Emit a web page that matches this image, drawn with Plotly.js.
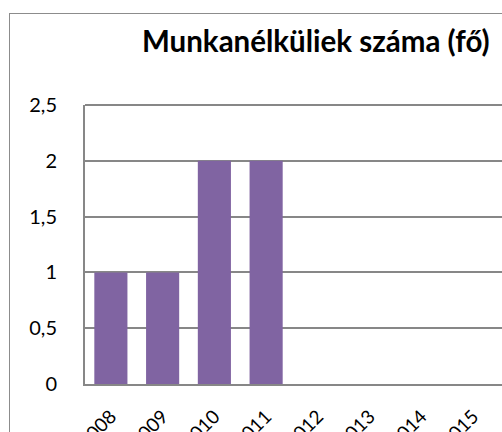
<!DOCTYPE html>
<html>
<head>
<meta charset="utf-8">
<script src="https://cdn.plot.ly/plotly-3.0.1.min.js"></script>
<style>
html,body{margin:0;padding:0;overflow:hidden;background:#fff;}
#wrap{position:relative;width:502px;height:432px;overflow:hidden;}
#frame{position:absolute;left:9px;top:13px;width:700px;height:700px;border:1.5px solid #8c8c8c;box-sizing:border-box;pointer-events:none;}
#chart{position:absolute;left:0;top:0;}
</style>
</head>
<body>
<div id="wrap">
<div id="chart" style="width:502px;height:432px;"></div>
<div id="frame"></div>
</div>
<script>
const years = ['2008','2009','2010','2011','2012','2013','2014','2015'];
const unemployed = [1, 1, 2, 2, null, null, null, null];
const yTicks = [0, 0.5, 1, 1.5, 2, 2.5];
const chartTitle = 'Munkanélküliek száma (fő)';

const fontFam = 'Lato, "Open Sans", sans-serif';
const L = 85, R = 0, T = 105, B = 48, W = 502, H = 432;
const pw = W - L - R, ph = H - T - B;
const catW = 51.75;

const data = [{
  type: 'bar',
  x: years,
  y: unemployed,
  marker: {color: '#8064A2'},
  width: 0.64,
  hoverinfo: 'skip'
}];

const layout = {
  width: W, height: H,
  margin: {l: L, r: R, t: T, b: B, pad: 0},
  paper_bgcolor: 'rgba(0,0,0,0)',
  plot_bgcolor: 'rgba(0,0,0,0)',
  separators: ',.',
  showlegend: false,
  font: {family: fontFam, size: 18, color: '#000'},
  xaxis: {
    type: 'category',
    range: [-0.5, -0.5 + pw / catW],
    tickangle: -45,
    showgrid: false,
    showline: true, linecolor: '#878787', linewidth: 2,
    ticks: '',
    ticklabelstandoff: 12,
    tickfont: {family: fontFam, size: 19, color: '#000'},
    fixedrange: true
  },
  yaxis: {
    range: [0, 2.5],
    tickvals: yTicks,
    showgrid: true, gridcolor: '#878787', gridwidth: 2,
    showline: true, linecolor: '#878787', linewidth: 2,
    zeroline: false,
    ticks: '',
    ticklabelstandoff: 22,
    tickfont: {family: fontFam, size: 20, color: '#000'},
    fixedrange: true
  },
  shapes: [{
    type: 'line', xref: 'paper', yref: 'paper',
    x0: 0, x1: 1, y0: 1, y1: 1,
    line: {color: '#878787', width: 2}
  }],
  annotations: [{
    text: '<b>' + chartTitle + '</b>',
    xref: 'paper', yref: 'paper',
    x: (316 - L) / pw, y: (H - B - 60) / ph,
    xanchor: 'center', yanchor: 'bottom',
    showarrow: false,
    font: {family: fontFam, size: 29.5, color: '#000'}
  }]
};

Plotly.newPlot('chart', data, layout, {displayModeBar: false, staticPlot: true});
</script>
</body>
</html>
